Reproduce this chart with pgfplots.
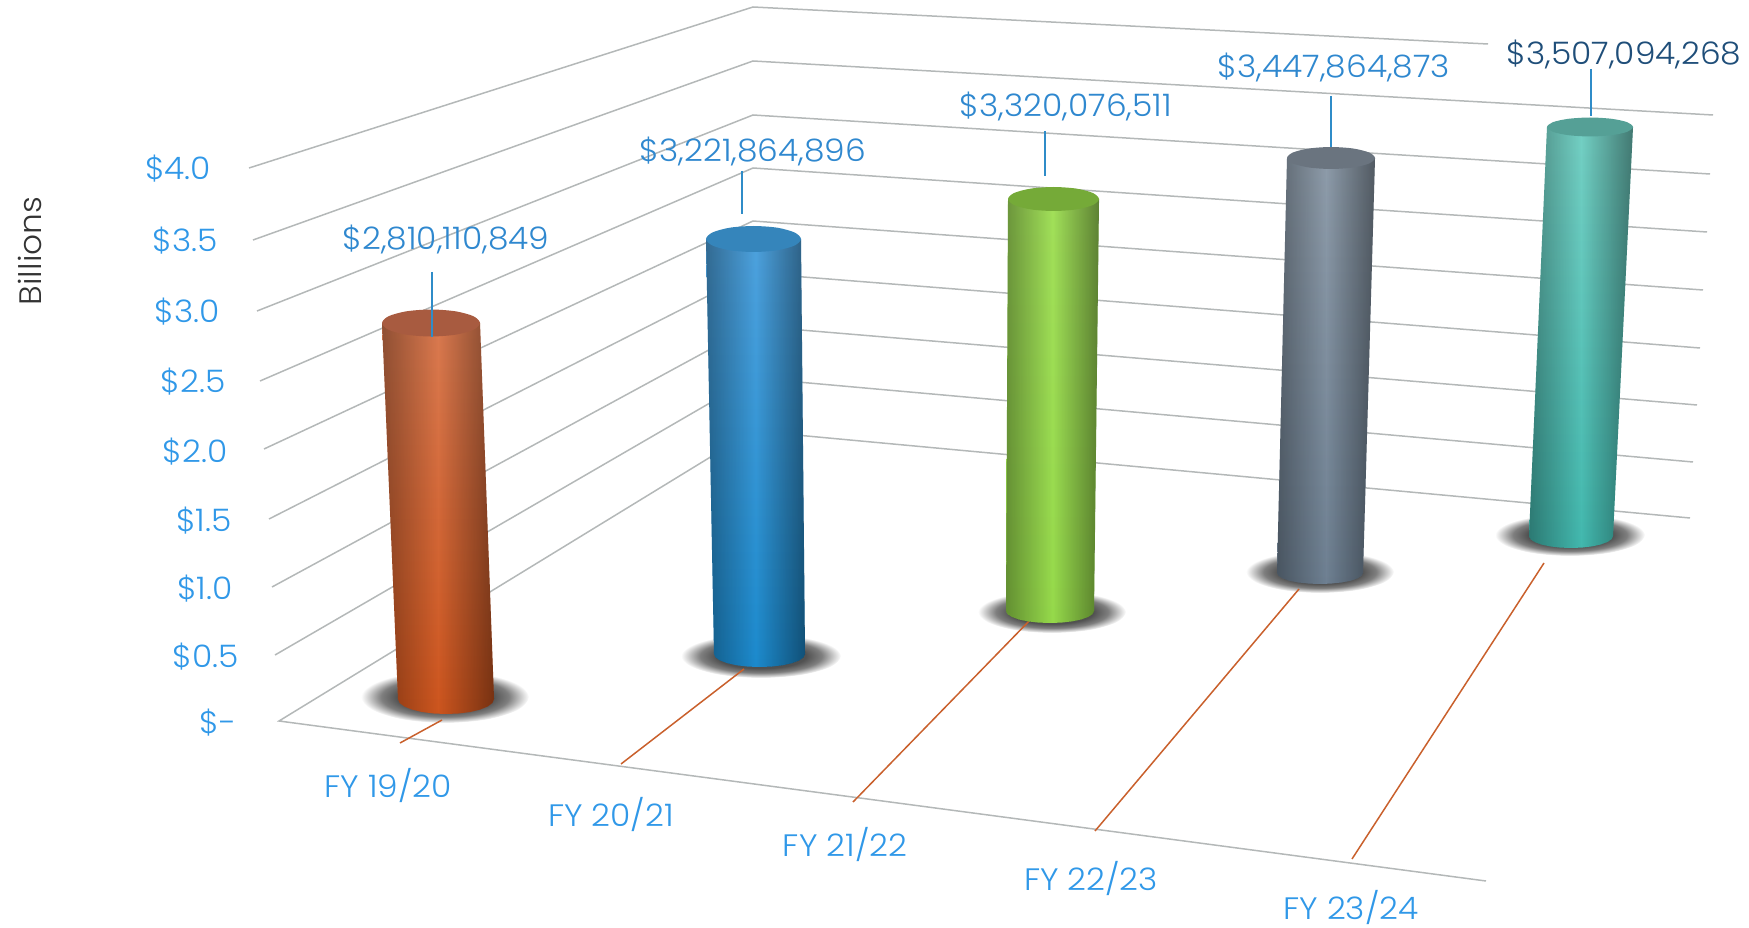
\documentclass[border=0pt]{standalone}
\usepackage{fontspec}
\setmainfont[UprightFont=* Light, FakeStretch=1.06]{Poppins}
\usepackage{pgfplots}
\usepackage{pgfplotstable}
\pgfplotsset{compat=1.18}
\usetikzlibrary{fadings}

\definecolor{axisblue}{HTML}{3098E8}
\definecolor{lblblue}{HTML}{2F88CF}
\definecolor{lblnavy}{HTML}{1F4E79}
\definecolor{leader}{HTML}{2F8CC8}
\definecolor{gridgray}{HTML}{B4B8B8}
\definecolor{floorline}{HTML}{C9602C}
\definecolor{shadowc}{HTML}{484848}

% soft shadow under each cylinder (path box ends at 25bp)
\pgfdeclareradialshading{softshadow}{\pgfpoint{0bp}{0bp}}{
  color(0bp)=(shadowc); color(14bp)=(shadowc!95!white);
  color(19bp)=(shadowc!70!white); color(25bp)=(white); color(50bp)=(white)}
% round edges of the cylinders
\tikzfading[name=cyledge, left color=transparent!66, right color=transparent!58, middle color=transparent!100]

% cylinder walls in image pixels
\pgfplotstableread{
x y
382 323
480 323
494 699
492.4 702.9
487.6 706.5
479.9 709.6
470 712
458.4 713.5
446 714
433.6 713.5
422 712
412.1 709.6
404.4 706.5
399.6 702.9
398 699
}\bodyA
\pgfplotstableread{
x y
706 239
801 239
805 654
803.5 657.4
798.9 660.5
791.7 663.2
782.3 665.3
771.3 666.6
759.5 667
747.7 666.6
736.8 665.3
727.3 663.2
720.1 660.5
715.5 657.4
714 654
}\bodyB
\pgfplotstableread{
x y
1008 199
1099 199
1094 611
1092.5 614.1
1088.1 617
1081.1 619.5
1072 621.4
1061.4 622.6
1050 623
1038.6 622.6
1028 621.4
1018.9 619.5
1011.9 617
1007.5 614.1
1006 611
}\bodyC
\pgfplotstableread{
x y
1287 158
1375 158
1363 573
1361.5 575.8
1357.2 578.5
1350.4 580.8
1341.5 582.5
1331.1 583.6
1320 584
1308.9 583.6
1298.5 582.5
1289.6 580.8
1282.8 578.5
1278.5 575.8
1277 573
}\bodyD
\pgfplotstableread{
x y
1547 127
1633 127
1613 536
1611.6 539.1
1607.4 542
1600.7 544.5
1592 546.4
1581.9 547.6
1571 548
1560.1 547.6
1550 546.4
1541.3 544.5
1534.6 542
1530.4 539.1
1529 536
}\bodyE

\newcommand{\cyl}[5]{%
  \addplot[draw=none, top color=#3, bottom color=#4] table {#1} -- cycle;
  \addplot[draw=none, fill=black, path fading=cyledge] table {#1} -- cycle;
  \addplot[draw=none, fill=#5, smooth cycle] coordinates {#2};
}

\tikzset{
  ticklab/.style={inner sep=0pt, text=axisblue, font=\fontsize{31}{34}\selectfont},
  vallab/.style={inner sep=0pt, text=lblblue, font=\fontsize{31}{34}\selectfont},
}

\begin{document}
\begin{tikzpicture}
\path[use as bounding box] (0,0) rectangle (1749pt,928pt);
\begin{axis}[
    at={(0,0)}, anchor=south west,
    scale only axis, width=1749pt, height=928pt,
    xmin=0, xmax=1749, ymin=0, ymax=928,
    y dir=reverse,
    hide axis, clip=false,
]
% left wall, one line per $0.5 billion
\addplot[gridgray, line width=1.5pt] coordinates {(249,168) (753,7) (1488,44)};
\addplot[gridgray, line width=1.5pt] coordinates {(253,240) (753,61) (1713,115)};
\addplot[gridgray, line width=1.5pt] coordinates {(257,311) (753,115) (1710,174)};
\addplot[gridgray, line width=1.5pt] coordinates {(260,381) (753,168) (1707,232)};
\addplot[gridgray, line width=1.5pt] coordinates {(264,449) (753,221) (1703,290)};
\addplot[gridgray, line width=1.5pt] coordinates {(269,519) (753,273) (1700,348)};
\addplot[gridgray, line width=1.5pt] coordinates {(272,587) (753,326) (1697,405)};
\addplot[gridgray, line width=1.5pt] coordinates {(275,655) (753,378) (1693,462)};
\addplot[gridgray, line width=1.5pt] coordinates {(1486,881) (279,721) (753,431) (1690,518)};
% shadows
\addplot[draw=none, shading=softshadow, smooth cycle] coordinates {(529,697) (517.7,710) (487,719.5) (445,723) (403,719.5) (372.3,710) (361,697) (372.3,684) (403,674.5) (445,671) (487,674.5) (517.7,684)};
\addplot[draw=none, shading=softshadow, smooth cycle] coordinates {(841,656) (830.3,667) (801,675) (761,678) (721,675) (691.7,667) (681,656) (691.7,645) (721,637) (761,634) (801,637) (830.3,645)};
\addplot[draw=none, shading=softshadow, smooth cycle] coordinates {(1126,612) (1116.1,622.5) (1089,630.2) (1052,633) (1015,630.2) (987.9,622.5) (978,612) (987.9,601.5) (1015,593.8) (1052,591) (1089,593.8) (1116.1,601.5)};
\addplot[draw=none, shading=softshadow, smooth cycle] coordinates {(1394,572) (1384.1,582.5) (1357,590.2) (1320,593) (1283,590.2) (1255.9,582.5) (1246,572) (1255.9,561.5) (1283,553.8) (1320,551) (1357,553.8) (1384.1,561.5)};
\addplot[draw=none, shading=softshadow, smooth cycle] coordinates {(1645,535) (1635,545.5) (1607.5,553.2) (1570,556) (1532.5,553.2) (1505,545.5) (1495,535) (1505,524.5) (1532.5,516.8) (1570,514) (1607.5,516.8) (1635,524.5)};
% floor lines
\addplot[floorline, line width=1.5pt] coordinates {(400,743) (442,720)};
\addplot[floorline, line width=1.5pt] coordinates {(621,764) (744,669)};
\addplot[floorline, line width=1.5pt] coordinates {(853,802) (1033,617)};
\addplot[floorline, line width=1.5pt] coordinates {(1095,831) (1299,589)};
\addplot[floorline, line width=1.5pt] coordinates {(1352,859) (1544,563)};
% cylinders
\cyl{\bodyA}{(480,323) (473.4,329.8) (455.5,334.7) (431,336.5) (406.5,334.7) (388.6,329.8) (382,323) (388.6,316.2) (406.5,311.3) (431,309.5) (455.5,311.3) (473.4,316.2)}{{rgb,255:red,218;green,122;blue,80}}{{rgb,255:red,205;green,85;blue,30}}{{rgb,255:red,168;green,91;blue,64}}
\cyl{\bodyB}{(801,239) (794.6,245.5) (777.3,250.3) (753.5,252) (729.8,250.3) (712.4,245.5) (706,239) (712.4,232.5) (729.8,227.7) (753.5,226) (777.3,227.7) (794.6,232.5)}{{rgb,255:red,78;green,162;blue,222}}{{rgb,255:red,28;green,138;blue,205}}{{rgb,255:red,53;green,133;blue,187}}
\cyl{\bodyC}{(1099,199) (1092.9,205) (1076.3,209.4) (1053.5,211) (1030.8,209.4) (1014.1,205) (1008,199) (1014.1,193) (1030.8,188.6) (1053.5,187) (1076.3,188.6) (1092.9,193)}{{rgb,255:red,162;green,224;blue,90}}{{rgb,255:red,150;green,218;blue,75}}{{rgb,255:red,117;green,170;blue,56}}
\cyl{\bodyD}{(1375,158) (1369.1,163.5) (1353,167.5) (1331,169) (1309,167.5) (1292.9,163.5) (1287,158) (1292.9,152.5) (1309,148.5) (1331,147) (1353,148.5) (1369.1,152.5)}{{rgb,255:red,142;green,156;blue,170}}{{rgb,255:red,110;green,128;blue,146}}{{rgb,255:red,106;green,116;blue,127}}
\cyl{\bodyE}{(1633,127) (1627.2,131.8) (1611.5,135.2) (1590,136.5) (1568.5,135.2) (1552.8,131.8) (1547,127) (1552.8,122.2) (1568.5,118.8) (1590,117.5) (1611.5,118.8) (1627.2,122.2)}{{rgb,255:red,116;green,208;blue,196}}{{rgb,255:red,66;green,184;blue,174}}{{rgb,255:red,85;green,160;blue,150}}
% leader lines
\addplot[leader, line width=1.3pt] coordinates {(432,272) (432,337)};
\addplot[leader, line width=1.3pt] coordinates {(742,171) (742,214)};
\addplot[leader, line width=1.3pt] coordinates {(1045,131) (1045,176)};
\addplot[leader, line width=1.3pt] coordinates {(1331,96) (1331,147)};
\addplot[leader, line width=1.3pt] coordinates {(1591,69) (1591,116)};
% value axis
\node[ticklab] at (axis cs:178,169) {\$4.0};
\node[ticklab] at (axis cs:185,241) {\$3.5};
\node[ticklab] at (axis cs:187,312) {\$3.0};
\node[ticklab] at (axis cs:193,382) {\$2.5};
\node[ticklab] at (axis cs:195,452) {\$2.0};
\node[ticklab] at (axis cs:204,521) {\$1.5};
\node[ticklab] at (axis cs:205,589) {\$1.0};
\node[ticklab] at (axis cs:206,657) {\$0.5};
\node[ticklab] at (axis cs:218,723) {\$-};
\node[inner sep=0pt, rotate=90, text=black!80, font=\fontsize{31}{34}\selectfont] at (axis cs:30,251) {Billions};
% year labels
\node[ticklab] at (axis cs:388,785) {FY 19/20};
\node[ticklab] at (axis cs:611,814) {FY 20/21};
\node[ticklab] at (axis cs:845,844) {FY 21/22};
\node[ticklab] at (axis cs:1091,878) {FY 22/23};
\node[ticklab] at (axis cs:1351,907) {FY 23/24};
% value labels
\node[vallab] at (axis cs:446,240) {\$2,810,110,849};
\node[vallab] at (axis cs:753,152) {\$3,221,864,896};
\node[vallab] at (axis cs:1066,107) {\$3,320,076,511};
\node[vallab] at (axis cs:1334,68) {\$3,447,864,873};
\node[vallab, text=lblnavy] at (axis cs:1624,55) {\$3,507,094,268};
\end{axis}
\end{tikzpicture}
\end{document}
